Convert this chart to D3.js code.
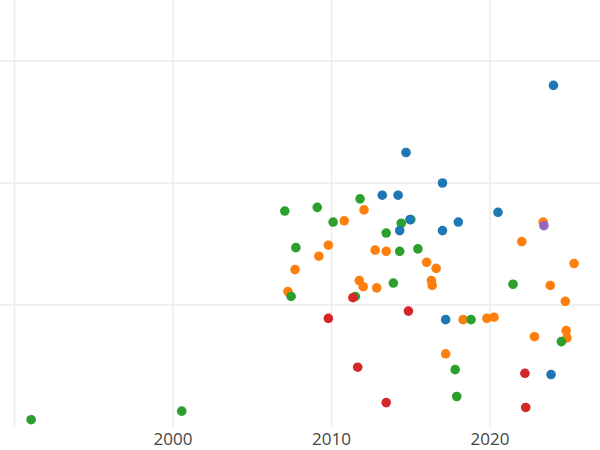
<!DOCTYPE html>
<html>
<head>
<meta charset="utf-8">
<script src="https://cdn.jsdelivr.net/npm/d3@7"></script>
<style>
  body { margin: 0; background: #fff; }
  text { font-family: "Open Sans", sans-serif; }
</style>
</head>
<body>
<svg id="chart" width="600" height="450"></svg>
<script>
// [year, value] per group
var blue = [[2024.0,2.80],[2014.7,2.25],[2017.0,2.0],[2013.2,1.90],[2014.2,1.90],[2020.5,1.76],[2014.95,1.70],[2018.0,1.68],[2014.3,1.61],[2017.0,1.61],[2017.2,0.88],[2023.85,0.43]];
var orange = [[2012.05,1.78],[2010.8,1.69],[2023.35,1.68],[2009.8,1.49],[2009.2,1.40],[2022.0,1.52],[2012.75,1.45],[2013.45,1.44],[2016.0,1.35],[2016.6,1.30],[2025.3,1.34],[2007.7,1.29],[2011.75,1.20],[2012.0,1.15],[2012.85,1.14],[2016.3,1.20],[2016.35,1.16],[2007.25,1.11],[2023.8,1.16],[2024.75,1.03],[2018.3,0.88],[2019.8,0.89],[2020.25,0.90],[2024.8,0.79],[2024.85,0.73],[2022.8,0.74],[2017.2,0.60]];
var green = [[2011.8,1.87],[2007.05,1.77],[2009.1,1.80],[2010.1,1.68],[2014.4,1.67],[2015.0,1.70],[2013.45,1.59],[2007.75,1.47],[2014.3,1.44],[2015.45,1.46],[2013.9,1.18],[2021.45,1.17],[2007.45,1.07],[2011.5,1.07],[2018.8,0.88],[2024.5,0.70],[2017.8,0.47],[2017.9,0.25],[2000.55,0.13],[1991.05,0.06]];
var red = [[2011.35,1.06],[2009.8,0.89],[2014.85,0.95],[2011.65,0.49],[2013.45,0.20],[2022.2,0.44],[2022.25,0.16]];
var purple = [[2023.4,1.65]];

var groups = [
  {pts: orange, color: '#ff7f0e'},
  {pts: green, color: '#2ca02c'},
  {pts: blue, color: '#1f77b4'},
  {pts: red, color: '#d62728'},
  {pts: purple, color: '#9467bd'}
];
var xTicks = [2000, 2010, 2020];

var svg = d3.select('#chart');
var x = d3.scaleLinear().domain([1990, 2027]).range([14.5, 601]);
var y = d3.scaleLinear().domain([0, 3.5]).range([427, 0]);

svg.selectAll('.vg').data([1990].concat(xTicks)).enter().append('line')
  .attr('x1', d => x(d)).attr('x2', d => x(d))
  .attr('y1', 0).attr('y2', 427)
  .attr('stroke', '#ebebeb').attr('stroke-width', 1.5);

svg.selectAll('.hg').data([1, 2, 3]).enter().append('line')
  .attr('x1', 0).attr('x2', 600)
  .attr('y1', d => y(d)).attr('y2', d => y(d))
  .attr('stroke', '#ebebeb').attr('stroke-width', 1.5);

svg.selectAll('.xl').data(xTicks).enter().append('text')
  .attr('x', d => x(d)).attr('y', 445)
  .attr('text-anchor', 'middle')
  .attr('font-size', 17).attr('fill', '#444')
  .text(d => d);

groups.forEach(g => {
  svg.append('g').selectAll('circle').data(g.pts).enter().append('circle')
    .attr('cx', d => x(d[0])).attr('cy', d => y(d[1]))
    .attr('r', 4.8).attr('fill', g.color);
});
</script>
</body>
</html>
